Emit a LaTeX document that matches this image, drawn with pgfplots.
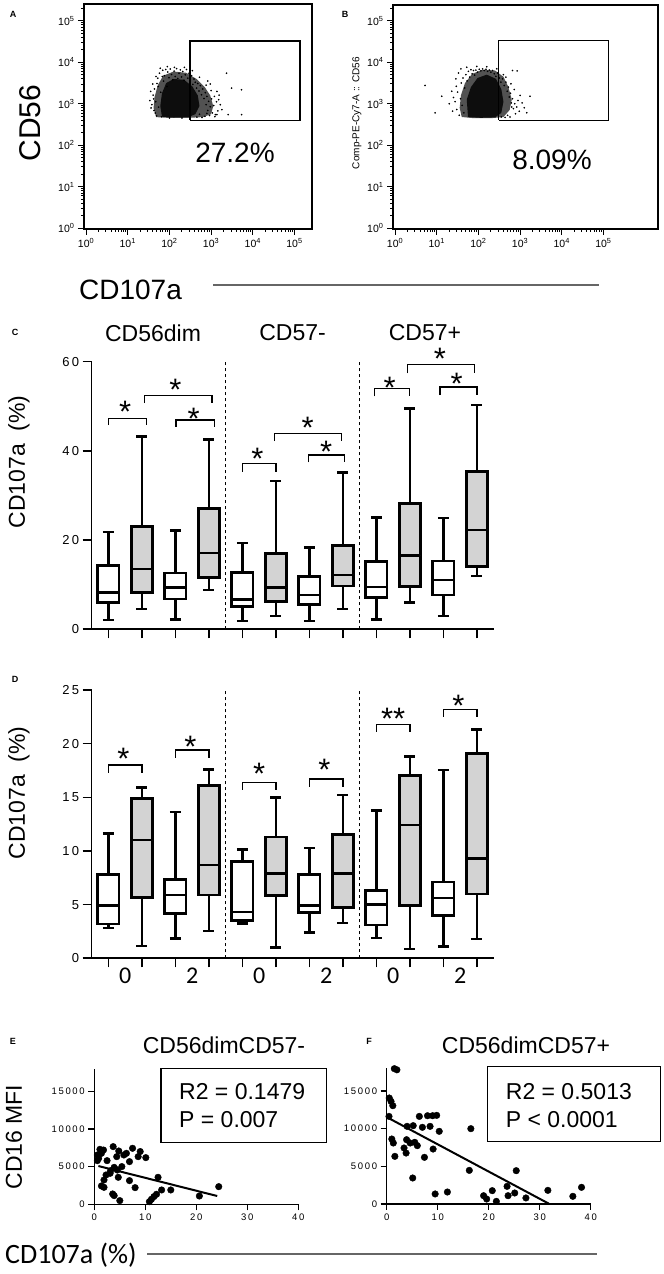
\documentclass[border=0pt]{standalone}
\usepackage{fontspec}
\setmainfont{Liberation Sans}
\newfontfamily\calib{Carlito}
\newfontfamily\tickf[LetterSpace=18]{Liberation Sans}
\usepackage{pgfplots}
\pgfplotsset{compat=1.18}
\usepgfplotslibrary{statistics}
\definecolor{boxgray}{RGB}{211,211,211}
\newcommand\fs[1]{\fontsize{#1bp}{#1bp}\selectfont}
\newcommand\tsp[1]{10\textsuperscript{#1}}

\pgfplotsset{
  facs/.style={
    scale only axis, anchor=south west,
    xtick={0,1,2,3,4,5}, ytick={0,1,2,3,4,5},
    xticklabels={\tsp0,\tsp1,\tsp2,\tsp3,\tsp4,\tsp5},
    yticklabels={\tsp0,\tsp1,\tsp2,\tsp3,\tsp4,\tsp5},
    minor xtick={0.301,0.477,0.602,0.699,0.778,0.845,0.903,0.954,1.301,1.477,1.602,1.699,1.778,1.845,1.903,1.954,2.301,2.477,2.602,2.699,2.778,2.845,2.903,2.954,3.301,3.477,3.602,3.699,3.778,3.845,3.903,3.954,4.301,4.477,4.602,4.699,4.778,4.845,4.903,4.954},
    minor ytick={0.301,0.477,0.602,0.699,0.778,0.845,0.903,0.954,1.301,1.477,1.602,1.699,1.778,1.845,1.903,1.954,2.301,2.477,2.602,2.699,2.778,2.845,2.903,2.954,3.301,3.477,3.602,3.699,3.778,3.845,3.903,3.954,4.301,4.477,4.602,4.699,4.778,4.845,4.903,4.954,5.301},
    tick align=outside, xtick pos=left, ytick pos=left,
    major tick length=6bp, minor tick length=3bp,
    tick style={black, line width=1bp},
    axis line style={line width=1.3bp},
    tick label style={font=\fs{10.5}},
  },
  bp/.style={
    scale only axis, anchor=south west,
    width=402bp, xmin=0.5, xmax=12.5, ymin=0,
    axis lines*=left,
    axis line style={line width=1.6bp},
    xtick={1,...,12}, xticklabels={},
    tick align=outside, major tick length=9bp,
    tick style={black, line width=1.6bp},
    tick label style={font=\tickf\fs{13}},
    /pgf/number format/assume math mode=true,
    boxplot/draw direction=y,
    boxplot/box extend=0.63,
    boxplot/whisker extend=0.32,
    boxplot/every box/.style={line width=2.8bp},
    boxplot/every whisker/.style={line width=2.5bp},
    boxplot/every median/.style={line width=2.5bp},
    clip=false,
  },
  sc/.style={
    scale only axis, anchor=south west,
    width=204bp, height=135.7bp,
    xmin=0, xmax=40, ymin=0, ymax=18000,
    axis lines*=left,
    axis line style={line width=1.4bp},
    xtick={0,10,20,30,40}, ytick={0,5000,10000,15000},
    scaled y ticks=false,
    yticklabel style={/pgf/number format/fixed, /pgf/number format/1000 sep={}},
    tick align=outside, major tick length=6bp,
    tick style={black, line width=1.4bp},
    tick label style={font=\tickf\fs{9.5}},
    /pgf/number format/assume math mode=true,
    clip=false,
  },
  dash/.style={black, line width=1.5bp, dash pattern=on 3bp off 3bp},
}

% box: position, lower whisker, Q1, median, Q3, upper whisker, fill
\newcommand\bx[7]{\addplot[black, fill=#7, boxplot prepared={draw position=#1, lower whisker=#2, lower quartile=#3, median=#4, upper quartile=#5, upper whisker=#6}] coordinates {};}
% bracket: x1, x2, top, leg end
\newcommand\br[4]{\addplot[black, line width=1.3bp] coordinates {(#1,#4) (#1,#3) (#2,#3) (#2,#4)};}
\newcommand\st[3]{\node[font=\fs{31}, anchor=base, yshift=-17.8bp, inner sep=0pt] at (axis cs:#1,#2) {#3};}

\begin{document}
\begin{tikzpicture}
\path[use as bounding box] (0,0) rectangle (664bp,1274bp);

% ---------- A ----------
\begin{axis}[facs, at={(84bp,1045bp)}, width=228bp, height=225bp,
  xmin=-0.05, xmax=5.42, ymin=-0.02, ymax=5.41]
\addplot[fill=black!68, draw=none] coordinates {(1.68,2.68)(2.0,2.66)(2.4,2.66)(2.8,2.68)(3.0,2.75)(3.05,2.95)(2.98,3.2)(2.85,3.4)(2.65,3.6)(2.4,3.75)(2.1,3.78)(1.85,3.68)(1.72,3.45)(1.64,3.15)(1.62,2.9)};
\addplot[fill=black!95, draw=none] coordinates {(1.82,2.69)(2.1,2.67)(2.45,2.68)(2.62,2.75)(2.72,2.95)(2.68,3.2)(2.55,3.42)(2.35,3.58)(2.1,3.6)(1.92,3.5)(1.82,3.25)(1.78,2.95)};
\addplot[only marks, mark=*, mark size=0.6bp, black] coordinates {
(1.58,2.98)(1.61,3.21)(1.63,2.84)(1.64,3.36)(1.67,3.05)(1.69,2.71)(1.70,3.49)(1.72,3.62)(1.74,2.92)(1.76,3.74)
(1.79,3.28)(1.81,2.69)(1.84,3.81)(1.86,3.55)(1.88,3.68)(1.91,3.83)(1.94,3.42)(1.96,3.77)(1.99,3.63)(2.02,3.84)
(2.05,3.71)(2.08,3.58)(2.11,3.79)(2.14,3.66)(2.17,3.85)(2.20,3.61)(2.23,3.74)(2.26,3.82)(2.29,3.65)(2.32,3.78)
(2.35,3.57)(2.38,3.70)(2.41,3.83)(2.44,3.62)(2.47,3.74)(2.50,3.55)(2.53,3.68)(2.56,3.47)(2.59,3.60)(2.62,3.52)
(2.65,3.38)(2.68,3.49)(2.71,3.31)(2.74,3.44)(2.77,3.22)(2.80,3.36)(2.83,3.13)(2.86,3.27)(2.88,2.98)(2.90,3.18)
(2.92,2.84)(2.94,3.06)(2.96,2.72)(2.98,2.93)(3.01,3.12)(3.03,2.78)(3.06,2.96)(3.09,2.69)(2.85,2.70)(2.78,2.67)
(2.72,2.75)(2.66,2.68)(2.90,2.77)(3.13,3.05)(3.16,2.83)(3.19,3.21)(3.22,2.98)(3.14,3.30)(3.10,2.74)(3.41,2.74)
(3.73,2.74)(3.14,2.74)(3.37,3.74)(3.49,3.38)(3.73,3.34)(2.98,3.48)(2.92,3.55)(1.62,3.12)(1.56,2.90)(1.66,2.78)
(1.73,3.42)(1.83,3.66)(2.00,2.66)(2.30,2.66)(2.50,2.67)(1.53,3.08)(1.55,3.30)(1.60,3.48)(1.68,3.66)(1.78,3.86)
(1.95,3.90)(2.12,3.88)(2.36,3.88)(2.55,3.80)(2.72,3.64)(2.88,3.45)(3.00,3.32)(3.08,3.18)(3.18,3.10)(3.26,2.86)};
\addplot[black, line width=1.3bp] coordinates {(2.49,2.6)(5.13,2.6)(5.13,4.52)(2.49,4.52)(2.49,2.6)};
\end{axis}

% ---------- B ----------
\begin{axis}[facs, at={(393bp,1045bp)}, width=265bp, height=224bp,
  xmin=-0.05, xmax=6.31, ymin=-0.02, ymax=5.38]
\addplot[fill=black!68, draw=none] coordinates {(1.6,2.68)(1.9,2.65)(2.3,2.65)(2.6,2.68)(2.75,2.85)(2.8,3.1)(2.72,3.4)(2.6,3.65)(2.4,3.8)(2.1,3.82)(1.85,3.72)(1.68,3.5)(1.58,3.2)(1.55,2.9)};
\addplot[fill=black!95, draw=none] coordinates {(1.75,2.68)(2.05,2.66)(2.4,2.67)(2.55,2.78)(2.6,3.05)(2.55,3.35)(2.42,3.6)(2.2,3.7)(1.98,3.62)(1.82,3.4)(1.72,3.1)};
\addplot[only marks, mark=*, mark size=0.6bp, black] coordinates {
(1.44,3.05)(1.48,2.86)(1.50,3.28)(1.52,3.74)(1.54,2.72)(1.57,3.12)(1.59,3.50)(1.61,2.96)(1.63,3.62)(1.65,2.78)
(1.67,3.38)(1.70,3.70)(1.73,3.55)(1.76,3.78)(1.79,3.64)(1.82,3.82)(1.85,3.72)(1.88,3.80)(1.91,3.69)(1.94,3.81)
(1.98,3.76)(2.02,3.83)(2.06,3.79)(2.10,3.84)(2.14,3.80)(2.18,3.83)(2.22,3.78)(2.26,3.81)(2.30,3.76)(2.34,3.80)
(2.38,3.72)(2.42,3.66)(2.46,3.74)(2.50,3.62)(2.54,3.52)(2.58,3.60)(2.62,3.44)(2.66,3.52)(2.69,3.30)(2.72,3.40)
(2.74,3.16)(2.77,3.25)(2.79,3.02)(2.82,3.12)(2.84,2.88)(2.87,3.00)(2.89,2.76)(2.92,2.92)(2.95,3.08)(2.98,2.82)
(2.70,2.72)(2.64,2.67)(2.76,2.68)(2.82,3.80)(2.93,3.79)(3.24,3.18)(3.16,2.78)(3.05,3.02)(3.10,2.90)(3.00,3.20)
(0.72,3.44)(0.96,2.78)(1.12,3.18)(1.30,3.00)(1.38,2.82)(1.36,3.30)(1.46,3.60)(2.55,2.68)(2.80,2.92)(2.86,3.34)
(2.60,3.70)(1.40,3.15)(1.47,3.42)(1.58,3.84)(1.72,3.88)(1.96,3.90)(2.20,3.89)(2.44,3.84)(2.66,3.64)(2.78,3.48)};
\addplot[black, line width=1.3bp] coordinates {(2.49,2.6)(5.13,2.6)(5.13,4.52)(2.49,4.52)(2.49,2.6)};
\end{axis}

% ---------- C ----------
\begin{axis}[bp, at={(91.6bp,644.7bp)}, height=267.6bp, ymax=60, ytick={0,20,40,60}]
\addplot[dash] coordinates {(4.5,0)(4.5,60)};
\addplot[dash] coordinates {(8.5,0)(8.5,60)};
\bx{1}{2.1}{6.0}{8.2}{14.3}{21.8}{white}
\bx{2}{4.5}{8.2}{13.5}{23.0}{43.2}{boxgray}
\bx{3}{2.25}{6.8}{9.4}{12.6}{22.1}{white}
\bx{4}{8.85}{11.6}{17.1}{27.0}{42.6}{boxgray}
\bx{5}{1.9}{5.1}{6.7}{12.8}{19.3}{white}
\bx{6}{3.0}{6.3}{9.4}{17.0}{33.2}{boxgray}
\bx{7}{1.9}{5.5}{7.7}{11.8}{18.3}{white}
\bx{8}{4.5}{9.7}{12.2}{18.8}{35.1}{boxgray}
\bx{9}{2.2}{7.2}{9.5}{15.2}{25.1}{white}
\bx{10}{6.0}{9.6}{16.6}{28.2}{49.5}{boxgray}
\bx{11}{3.0}{7.7}{11.0}{15.3}{24.9}{white}
\bx{12}{11.9}{14.0}{22.3}{35.3}{50.3}{boxgray}
\br{1.0}{2.13}{47.3}{45.8}  \st{1.5}{50.3}{*}
\br{2.08}{4.09}{52.4}{50.7} \st{3.0}{55.2}{*}
\br{3.02}{4.16}{46.9}{45.4} \st{3.55}{48.8}{*}
\br{5.0}{6.0}{37.2}{35.3}   \st{5.45}{39.8}{*}
\br{5.95}{7.95}{43.9}{42.2} \st{6.95}{46.7}{*}
\br{6.97}{8.05}{39.1}{37.4} \st{7.5}{41.3}{*}
\br{8.95}{9.98}{54.0}{52.2} \st{9.4}{55.7}{*}
\br{9.93}{11.93}{59.3}{57.4} \st{10.9}{62.2}{*}
\br{10.9}{12.0}{54.3}{52.5} \st{11.4}{56.6}{*}
\end{axis}

% ---------- D ----------
\begin{axis}[bp, at={(91.6bp,315.7bp)}, height=268.3bp, ymax=25, ytick={0,5,10,15,20,25}]
\addplot[dash] coordinates {(4.5,0)(4.5,25)};
\addplot[dash] coordinates {(8.5,0)(8.5,25)};
\bx{1}{2.8}{3.2}{4.9}{7.8}{11.65}{white}
\bx{2}{1.15}{5.7}{11.0}{14.9}{15.9}{boxgray}
\bx{3}{1.86}{4.2}{5.9}{7.35}{13.65}{white}
\bx{4}{2.55}{5.9}{8.7}{16.1}{17.6}{boxgray}
\bx{5}{3.25}{3.5}{4.3}{9.0}{10.15}{white}
\bx{6}{1.0}{5.85}{7.9}{11.3}{15.0}{boxgray}
\bx{7}{2.4}{4.3}{4.9}{7.8}{10.3}{white}
\bx{8}{3.3}{4.7}{7.9}{11.5}{15.2}{boxgray}
\bx{9}{1.9}{3.1}{5.0}{6.3}{13.75}{white}
\bx{10}{0.87}{4.9}{12.4}{17.0}{18.8}{boxgray}
\bx{11}{1.1}{4.0}{5.6}{7.1}{17.55}{white}
\bx{12}{1.8}{6.0}{9.3}{19.1}{21.3}{boxgray}
\br{1.0}{2.0}{18.0}{17.3}  \st{1.45}{19.25}{*}
\br{3.0}{4.0}{19.4}{18.7}  \st{3.45}{20.4}{*}
\br{5.0}{6.0}{16.4}{15.7}  \st{5.5}{17.85}{*}
\br{7.0}{8.0}{16.7}{16.0}  \st{7.45}{18.2}{*}
\br{9.0}{10.0}{21.8}{21.1} \st{9.5}{23.0}{**}
\br{11.0}{12.0}{23.2}{22.5} \st{11.45}{24.2}{*}
\node[font=\calib\fs{24}] at (axis cs:1.5,0) [yshift=-17bp] {0};
\node[font=\calib\fs{24}] at (axis cs:3.5,0) [yshift=-17bp] {2};
\node[font=\calib\fs{24}] at (axis cs:5.5,0) [yshift=-17bp] {0};
\node[font=\calib\fs{24}] at (axis cs:7.5,0) [yshift=-17bp] {2};
\node[font=\calib\fs{24}] at (axis cs:9.5,0) [yshift=-17bp] {0};
\node[font=\calib\fs{24}] at (axis cs:11.5,0) [yshift=-17bp] {2};
\end{axis}

% ---------- E ----------
\begin{axis}[sc, at={(94.3bp,69.7bp)}]
\addplot[only marks, mark=*, mark size=3.3bp, black] coordinates {
(0.6,6540)(1.1,7290)(1.4,6760)(0.85,6100)(2.5,5790)(3.7,7650)(4.4,6320)(4.8,7070)(5.8,6540)(6.3,6760)
(6.9,5660)(7.5,7430)(8.6,6320)(9.0,7000)(10.1,6190)(3.1,4110)(3.9,4900)(4.5,4550)(4.7,3580)(2.3,3890)
(1.9,3230)(1.4,2430)(1.9,2250)(6.9,3140)(8.0,2210)(3.6,1370)(3.9,1150)(5.0,490)(10.8,350)(11.2,660)
(11.7,1020)(12.2,1330)(12.5,3580)(13.2,1900)(15.0,1900)(20.6,1100)(24.4,2340)(1.8,7200)(3.2,4460)(5.4,5000)
(0.6,5790)};
\addplot[black, line width=2bp] coordinates {(0.8,5080)(24.1,1100)};
\end{axis}

% ---------- F ----------
\begin{axis}[sc, at={(386.7bp,70bp)}]
\addplot[only marks, mark=*, mark size=3.3bp, black] coordinates {
(1.5,17950)(2.0,17800)(0.5,14060)(0.85,13610)(1.2,13040)(0.45,11620)(1.0,8620)(1.3,8090)(1.6,6320)(4.0,10300)
(5.2,10390)(6.4,11620)(7.0,10170)(8.0,11710)(8.5,10300)(9.0,11710)(9.8,11760)(10.3,9640)(9.1,7290)(7.4,6190)
(3.9,8530)(4.6,8090)(5.5,8180)(6.0,7740)(3.4,7430)(3.8,6760)(5.1,3450)(9.5,1330)(11.9,1590)(16.5,9990)
(16.2,4460)(19.0,1100)(19.6,660)(20.7,1770)(21.5,350)(23.6,2340)(23.8,1100)(25.1,1460)(25.4,4420)(27.3,800)
(31.6,1810)(36.5,1020)(38.2,2210)};
\addplot[black, line width=2bp] coordinates {(0.1,11490)(31.8,40)};
\end{axis}

% ---------- texts ----------
\node[font=\bfseries\fs{9}] at (13bp,1260bp) {A};
\node[font=\bfseries\fs{9}] at (345bp,1260bp) {B};
\node[font=\fs{30}, rotate=90] at (30bp,1151bp) {CD56};
\node[font=\fs{10}, rotate=90] at (357bp,1161bp) {Comp-PE-Cy7-A :: CD56};
\node[font=\fs{28}] at (235bp,1121bp) {27.2\%};
\node[font=\fs{28}] at (552bp,1114bp) {8.09\%};
\node[font=\fs{28}] at (130.5bp,984bp) {CD107a};
\draw[black!60, line width=1.2bp] (213bp,989bp) -- (599bp,989bp);

\node[font=\bfseries\fs{9}] at (15bp,942bp) {C};
\node[font=\fs{23}] at (153bp,941bp) {CD56dim};
\node[font=\fs{23}] at (292.6bp,941bp) {CD57-};
\node[font=\fs{23}] at (425bp,941bp) {CD57+};
\node[font=\fs{23}, rotate=90] at (19bp,812bp) {CD107a\ \ (\%)};

\node[font=\bfseries\fs{9}] at (15bp,594.7bp) {D};
\node[font=\fs{23}, rotate=90] at (19bp,481bp) {CD107a\ \ (\%)};

\node[font=\bfseries\fs{9}] at (13bp,232.3bp) {E};
\node[font=\bfseries\fs{9}] at (369bp,232.3bp) {F};
\node[font=\fs{23}] at (224bp,229bp) {CD56dimCD57-};
\node[font=\fs{23}] at (526bp,229bp) {CD56dimCD57+};
\node[font=\fs{23}, rotate=90] at (14bp,137bp) {CD16 MFI};
\draw[black, line width=1.5bp] (161bp,205.7bp) rectangle (326.7bp,131.3bp);
\draw[black, line width=1.5bp] (487.7bp,207.3bp) rectangle (660.7bp,132.3bp);
\node[font=\fs{23}, anchor=west, inner sep=0pt] at (179bp,182.3bp) {R2 = 0.1479};
\node[font=\fs{23}, anchor=west, inner sep=0pt] at (179bp,154bp) {P = 0.007};
\node[font=\fs{23}, anchor=west, inner sep=0pt] at (505.7bp,182.3bp) {R2 = 0.5013};
\node[font=\fs{23}, anchor=west, inner sep=0pt] at (505.7bp,154bp) {P < 0.0001};
\node[font=\calib\fs{28}, anchor=west, inner sep=0pt] at (5bp,19bp) {CD107a (\%)};
\draw[black!60, line width=1.2bp] (147bp,20bp) -- (597bp,20bp);
\end{tikzpicture}
\end{document}
